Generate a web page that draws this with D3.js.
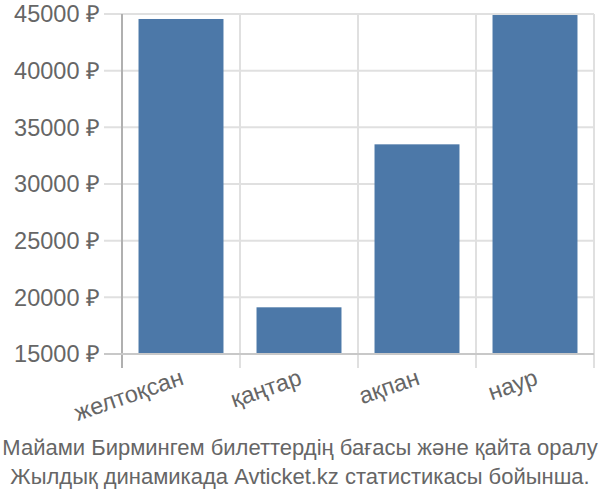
<!DOCTYPE html>
<html><head><meta charset="utf-8">
<script src="https://cdn.jsdelivr.net/npm/d3@7"></script>
<style>body{margin:0;background:#fff}text{font-family:"Liberation Sans",Arial,sans-serif}</style>
</head><body><svg id="c" width="600" height="500"></svg>
<script>
const categories = ["желтоқсан","қаңтар","ақпан","наур"];
const values = [44560, 19120, 33500, 44910];
const yTicks = [15000,20000,25000,30000,35000,40000,45000];
const titleLines = ["Майами Бирмингем билеттердің бағасы және қайта оралу","Жылдық динамикада Avticket.kz статистикасы бойынша."];

const svg = d3.select("#c");
const L=122,R=594,T=14,B=354;
const x = d3.scaleBand().domain(categories).range([L,R]).paddingInner(0.28).paddingOuter(0.14);
const y = d3.scaleLinear().domain([15000,45000]).range([B,T]);
const grid="#e0e0e0", txt="#666";

svg.append("g").selectAll("line").data(yTicks).join("line")
 .attr("x1",104).attr("x2",R).attr("y1",d=>y(d)).attr("y2",d=>y(d))
 .attr("stroke",grid).attr("stroke-width",2);
const step=(R-L)/categories.length;
const vx=d3.range(categories.length+1).map(i=>L+i*step);
svg.append("g").selectAll("line").data(vx).join("line")
 .attr("x1",d=>d).attr("x2",d=>d).attr("y1",T).attr("y2",B+14)
 .attr("stroke",grid).attr("stroke-width",2);
svg.append("g").selectAll("rect").data(values).join("rect")
 .attr("x",(d,i)=>x(categories[i])).attr("width",x.bandwidth())
 .attr("y",d=>y(d)).attr("height",d=>B-y(d))
 .attr("fill","#4c78a8");
svg.append("line").attr("x1",L).attr("x2",L).attr("y1",T).attr("y2",B+14).attr("stroke","#b0b0b0").attr("stroke-width",2);
svg.append("line").attr("x1",104).attr("x2",R).attr("y1",B).attr("y2",B).attr("stroke","#c8c8c8").attr("stroke-width",2);
svg.append("g").selectAll("text").data(yTicks).join("text")
 .attr("x",100).attr("y",d=>y(d)).attr("dy","0.35em").attr("text-anchor","end")
 .attr("font-size",23.5).attr("fill",txt).text(d=>d+" ₽");
svg.append("g").selectAll("text").data(categories).join("text")
 .attr("transform",d=>`translate(${x(d)+x.bandwidth()/2+4},${B+30}) rotate(-19)`)
 .attr("text-anchor","end").attr("font-size",23.5).attr("fill",txt).text(d=>d);
svg.append("g").selectAll("text").data(titleLines).join("text")
 .attr("x",300).attr("y",(d,i)=>455+i*29).attr("text-anchor","middle")
 .attr("font-size",22).attr("fill",txt).text(d=>d);
</script></body></html>
